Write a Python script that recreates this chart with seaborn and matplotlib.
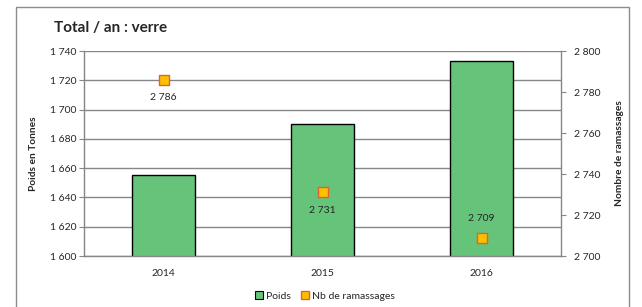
import matplotlib
matplotlib.use("Agg")
import matplotlib.pyplot as plt
import seaborn as sns
import pandas as pd
from matplotlib.patches import Patch, Rectangle
from matplotlib.lines import Line2D

# data
annees = ["2014", "2015", "2016"]
poids = [1655, 1690, 1733]
nb_ramassages = [2786, 2731, 2709]
poids_ticks = [1600, 1620, 1640, 1660, 1680, 1700, 1720, 1740]
ram_ticks = [2700, 2720, 2740, 2760, 2780, 2800]

df = pd.DataFrame({"annee": annees, "poids": poids, "nb": nb_ramassages})

sns.set_style("white")
plt.rcParams["font.family"] = ["Lato", "DejaVu Sans"]

def fmt(v):
    return f"{v:,}".replace(",", " ")

grey = "#868686"
fig = plt.figure(figsize=(6.42, 3.07), dpi=100)
ax = fig.add_axes([84/642, 1-256/307, 477/642, 205/307])

# outer chart border
fig.patches.append(Rectangle((16/642, -0.02), 613/642, (300/307)+0.02,
                             transform=fig.transFigure, fill=False,
                             edgecolor="#8c8c8c", linewidth=1.0))

sns.barplot(data=df, x="annee", y="poids", order=annees, color="#66C37A",
            saturation=1, edgecolor="black", linewidth=1.0, width=0.4, ax=ax)
ax.set_ylim(1600, 1740)
ax.set_yticks(poids_ticks)
ax.set_yticklabels([fmt(v) for v in poids_ticks], fontsize=7.5)
ax.grid(axis="y", color=grey, linewidth=1.0)
ax.set_axisbelow(True)
ax.tick_params(axis="y", length=3.5, color=grey, pad=2, left=True)
ax.tick_params(axis="x", length=0, pad=9, labelsize=7.5)
ax.set_xlabel("")
ax.set_ylabel("Poids en Tonnes", fontsize=7.3, fontweight="bold")
ax.yaxis.set_label_coords((38-84)/477, 0.5)
for s in ["top", "right"]:
    ax.spines[s].set_visible(False)
for s in ["left", "bottom"]:
    ax.spines[s].set_color(grey)
    ax.spines[s].set_linewidth(1.0)

ax2 = ax.twinx()
sns.scatterplot(data=df, x="annee", y="nb", marker="s", s=42, color="#FFC000",
                edgecolor="#E0642A", linewidth=1.0, ax=ax2, zorder=5)
ax2.set_ylim(2700, 2800)
ax2.set_yticks(ram_ticks)
ax2.set_yticklabels([fmt(v) for v in ram_ticks], fontsize=7.5)
ax2.tick_params(axis="y", length=3.5, color=grey, pad=6, right=True)
ax2.set_ylabel("Nombre de ramassages", fontsize=7.3, fontweight="bold")
ax2.yaxis.set_label_coords((615-84)/477, 0.5)
for s in ["top", "left", "bottom"]:
    ax2.spines[s].set_visible(False)
ax2.spines["right"].set_color(grey)
ax2.spines["right"].set_linewidth(1.0)
ax.set_xlim(-0.5, len(annees) - 0.5)

# data labels
offsets = [-13, -13, 14]
for i, (a, v) in enumerate(zip(annees, nb_ramassages)):
    ax2.annotate(fmt(v), (i, v), xytext=(0, offsets[i]), textcoords="offset points",
                 ha="center", va="center", fontsize=7.5)

fig.text(54/642, 1-28/307, "Total / an : verre", fontsize=11, fontweight="bold",
         ha="left", va="center")

handles = [Patch(facecolor="#66C37A", edgecolor="black", linewidth=0.8),
           Line2D([], [], marker="s", linestyle="", markerfacecolor="#FFC000",
                  markeredgecolor="#E0642A", markersize=6)]
fig.legend(handles, ["Poids", "Nb de ramassages"], loc="center",
           bbox_to_anchor=(325/642, 1-296/307), ncol=2, frameon=False,
           fontsize=7.5, handlelength=0.7, handleheight=0.7, handletextpad=0.3,
           columnspacing=1.0)

fig.savefig("out.png", dpi=100)
